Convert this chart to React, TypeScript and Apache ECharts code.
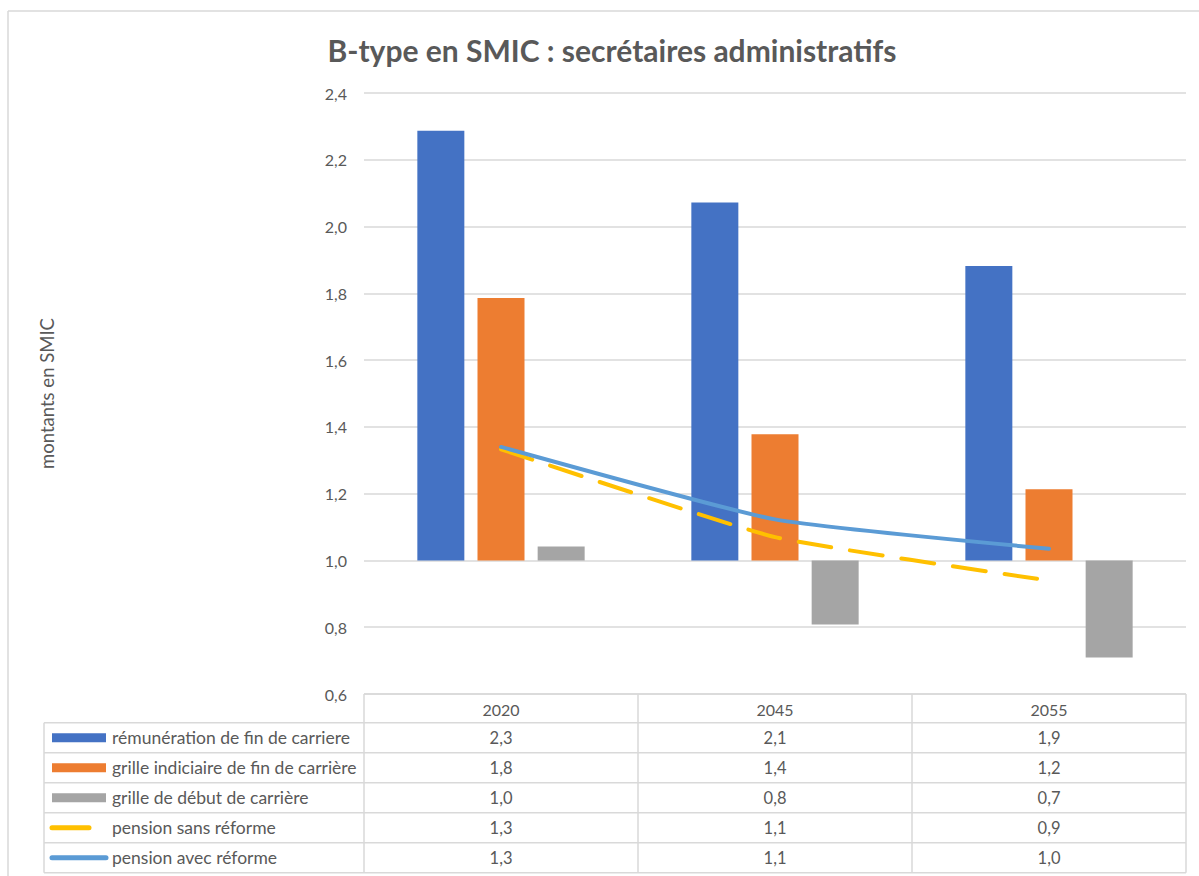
import React, { useEffect, useRef } from 'react';
import * as echarts from 'echarts';

const categories = ['2020', '2045', '2055'];
const rowLabels = [
  'rémunération de fin de carriere',
  'grille indiciaire de fin de carrière',
  'grille de début de carrière',
  'pension sans réforme',
  'pension avec réforme',
];
const remuneration = [2.287, 2.072, 1.882];
const grilleFin = [1.786, 1.378, 1.213];
const grilleDebut = [1.042, 0.808, 0.709];
const pensionSans = [1.333, 1.07, 0.94];
const pensionAvec = [1.34, 1.123, 1.035];
const BASE = 1.0;
const Y_MIN = 0.6;
const Y_MAX = 2.4;
const Y_STEP = 0.2;

const colors = ['#4472C4', '#ED7D31', '#A5A5A5', '#FFC000', '#5B9BD5'];
const TXT = '#595959';
const LINE = '#D9D9D9';
const FONT = 'Lato, "Noto Sans", sans-serif';

const fmt = (v: number) => v.toFixed(1).replace('.', ',');

export default function App() {
  const ref = useRef<HTMLDivElement>(null);
  useEffect(() => {
    const chart = echarts.init(ref.current!, null, { renderer: 'svg' });
    const W = 1199;
    const gridLeft = 364;
    const gridRight = 13;
    const gridTop = 93;
    const gridBottom = 182;
    const plotRight = W - gridRight;
    const band = (plotRight - gridLeft) / categories.length;
    const headerTop = 694;
    const rowTop = 722.7;
    const rowH = 30;

    const barSets = [remuneration, grilleFin, grilleDebut];
    const series: any[] = [];
    barSets.forEach((vals, i) => {
      series.push({
        type: 'bar',
        stack: 's' + i,
        stackStrategy: 'all',
        barWidth: 47,
        barGap: '28%',
        data: vals.map(() => BASE),
        itemStyle: { color: 'rgba(0,0,0,0)' },
        silent: true,
        z: 1,
      });
      series.push({
        type: 'bar',
        name: rowLabels[i],
        stack: 's' + i,
        stackStrategy: 'all',
        barWidth: 47,
        barGap: '28%',
        data: vals.map((v) => +(v - BASE).toFixed(4)),
        itemStyle: { color: colors[i] },
        z: 2,
      });
    });
    series.push({
      type: 'line',
      name: rowLabels[3],
      data: pensionSans,
      smooth: 0.15,
      symbol: 'none',
      lineStyle: { color: colors[3], width: 4, type: [33, 19], cap: 'round' },
      z: 5,
    });
    series.push({
      type: 'line',
      name: rowLabels[4],
      data: pensionAvec,
      smooth: 0.15,
      symbol: 'none',
      lineStyle: { color: colors[4], width: 4, cap: 'round' },
      z: 6,
    });

    const graphics: any[] = [];
    graphics.push({ type: 'line', shape: { x1: 8, y1: 11, x2: W, y2: 11 }, style: { stroke: LINE, lineWidth: 1.5 } });
    graphics.push({ type: 'line', shape: { x1: 8, y1: 11, x2: 8, y2: 876 }, style: { stroke: LINE, lineWidth: 1.5 } });
    const tableBottom = rowTop + rowH * rowLabels.length;
    for (let r = 0; r <= rowLabels.length; r++) {
      const y = rowTop + r * rowH;
      graphics.push({ type: 'line', shape: { x1: 44, y1: y, x2: plotRight, y2: y }, style: { stroke: LINE, lineWidth: 1.5 } });
    }
    graphics.push({ type: 'line', shape: { x1: gridLeft, y1: headerTop, x2: plotRight, y2: headerTop }, style: { stroke: LINE, lineWidth: 1.5 } });
    graphics.push({ type: 'line', shape: { x1: 44, y1: rowTop, x2: 44, y2: tableBottom }, style: { stroke: LINE, lineWidth: 1.5 } });
    for (let c = 0; c <= categories.length; c++) {
      const x = gridLeft + c * band;
      graphics.push({ type: 'line', shape: { x1: x, y1: headerTop, x2: x, y2: tableBottom }, style: { stroke: LINE, lineWidth: 1.5 } });
    }
    categories.forEach((cat, c) => {
      graphics.push({
        type: 'text',
        x: gridLeft + (c + 0.5) * band,
        y: (headerTop + rowTop) / 2 + 1,
        style: { text: cat, fill: TXT, font: `16px ${FONT}`, align: 'center', verticalAlign: 'middle' },
      });
    });
    const allData = [remuneration, grilleFin, grilleDebut, pensionSans, pensionAvec];
    rowLabels.forEach((label, r) => {
      const cy = rowTop + (r + 0.5) * rowH;
      if (r < 3) {
        graphics.push({ type: 'rect', shape: { x: 52, y: cy - 4.5, width: 54, height: 9 }, style: { fill: colors[r] } });
      } else {
        graphics.push({
          type: 'line',
          shape: { x1: 52, y1: cy, x2: r === 3 ? 89 : 106, y2: cy },
          style: { stroke: colors[r], lineWidth: 5, lineCap: 'round' },
        });
      }
      graphics.push({
        type: 'text',
        x: 112,
        y: cy,
        style: { text: label, fill: TXT, font: `17.5px ${FONT}`, align: 'left', verticalAlign: 'middle' },
      });
      allData[r].forEach((v, c) => {
        graphics.push({
          type: 'text',
          x: gridLeft + (c + 0.5) * band,
          y: cy,
          style: { text: fmt(v), fill: TXT, font: `16.5px ${FONT}`, align: 'center', verticalAlign: 'middle' },
        });
      });
    });

    chart.setOption({
      animation: false,
      backgroundColor: '#ffffff',
      title: {
        text: 'B-type en SMIC : secrétaires administratifs',
        left: 607,
        top: 30,
        textAlign: 'center',
        textStyle: { color: TXT, fontSize: 30, fontWeight: 'bold', fontFamily: FONT },
      },
      grid: { left: gridLeft, right: gridRight, top: gridTop, bottom: gridBottom, containLabel: false },
      xAxis: {
        type: 'category',
        data: categories,
        axisLine: { show: false },
        axisTick: { show: false },
        axisLabel: { show: false },
        splitLine: { show: false },
      },
      yAxis: {
        type: 'value',
        min: Y_MIN,
        max: Y_MAX,
        interval: Y_STEP,
        name: 'montants en SMIC',
        nameLocation: 'middle',
        nameGap: 308,
        nameTextStyle: { color: TXT, fontSize: 18.5, fontFamily: FONT },
        axisLine: { show: false },
        axisTick: { show: false },
        axisLabel: { color: TXT, fontSize: 16, fontFamily: FONT, margin: 17, formatter: (v: number) => fmt(v) },
        splitLine: { lineStyle: { color: LINE, width: 1.5 } },
      },
      series,
      graphic: graphics,
    });
    return () => chart.dispose();
  }, []);
  return <div ref={ref} style={{ position: 'fixed', left: 0, top: 0, width: 1199, height: 876 }} />;
}
